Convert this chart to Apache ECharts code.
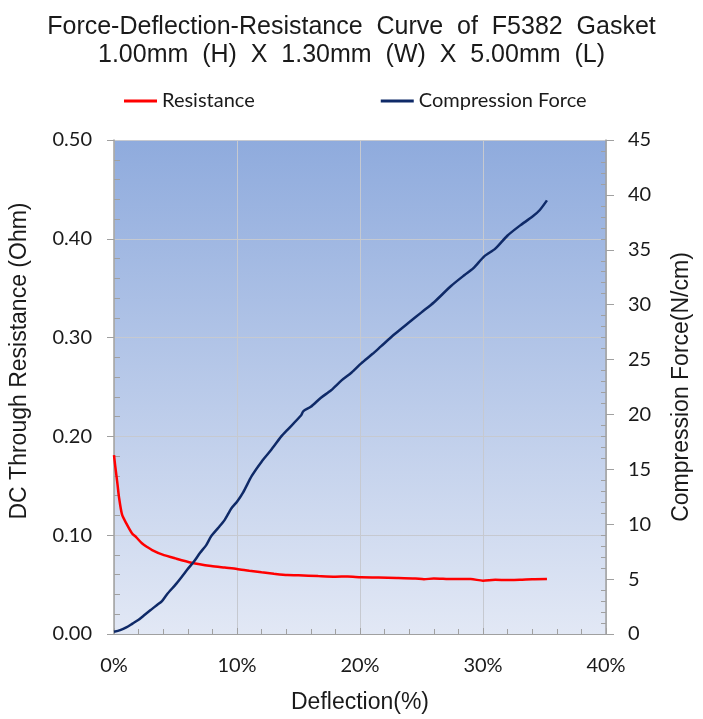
<!DOCTYPE html>
<html>
<head>
<meta charset="utf-8">
<script src="https://cdn.jsdelivr.net/npm/echarts@6/dist/echarts.min.js"></script>
<style>html,body{margin:0;padding:0;background:#fff}#c{width:703px;height:719px}</style>
</head>
<body>
<div id="c"></div>
<script>
// Deflection (%) / Resistance (Ohm)
const resDeflection = [0.0,0.1,0.2,0.3,0.4,0.65,1.0,1.46,1.8,2.27,2.7,3.1,3.9,5.0,6.3,7.9,9.0,10.0,11.0,12.0,13.0,14.1,15.0,16.6,18.0,19.0,20.1,21.5,23.0,24.5,25.2,26.0,27.5,29.0,30.0,31.0,32.0,33.0,34.0,35.2];
const resistance    = [0.181,0.17,0.16,0.15,0.139,0.121,0.112,0.102,0.098,0.0918,0.088,0.085,0.0806,0.0765,0.0722,0.0688,0.0672,0.0658,0.064,0.0624,0.061,0.0597,0.0595,0.0586,0.058,0.0582,0.0574,0.0572,0.0568,0.0562,0.0554,0.0562,0.0556,0.0556,0.054,0.0548,0.0546,0.0548,0.0555,0.0557];
// Deflection (%) / Compression force (N/cm)
const forceDeflection = [0.0,0.5,1.0,1.5,2.0,2.5,3.0,3.5,3.9,4.3,5.0,5.5,6.05,6.5,7.0,7.5,7.9,8.5,9.0,9.55,10.0,10.5,11.2,12.0,12.8,13.6,14.1,15.2,15.4,16.0,16.8,17.65,18.5,19.3,20.1,21.0,21.7,22.8,24.0,25.0,26.0,27.4,28.5,29.2,30.1,31.0,32.0,33.0,34.0,34.6,35.2];
const force           = [0.2,0.35,0.6,0.95,1.3,1.75,2.2,2.65,3.0,3.6,4.5,5.2,6.0,6.6,7.4,8.1,8.9,9.7,10.4,11.45,12.05,12.9,14.4,15.7,16.8,18.0,18.6,19.9,20.3,20.7,21.5,22.2,23.1,23.8,24.65,25.5,26.2,27.3,28.4,29.3,30.2,31.7,32.7,33.3,34.4,35.1,36.3,37.2,38.0,38.6,39.5];

const titleLines = ['Force-Deflection-Resistance  Curve  of  F5382  Gasket', '1.00mm  (H)  X  1.30mm  (W)  X  5.00mm  (L)'];
const seriesNames = ['Resistance', 'Compression Force'];

const chart = echarts.init(document.getElementById('c'));
const tickFont = {fontFamily: 'Lato', fontSize: 20, color: '#1a1a1a'};
const nameFont = {fontFamily: 'Liberation Sans', fontSize: 23, color: '#1a1a1a'};
const axisGray = '#a0a0a0';

chart.setOption({
  animation: false,
  title: {
    text: titleLines.join('\n'),
    left: 'center', top: 8,
    textStyle: {fontFamily: 'Liberation Sans', fontSize: 25, fontWeight: 'normal', color: '#1a1a1a', lineHeight: 28}
  },
  legend: {
    left: 119, top: 86,
    itemWidth: 33, itemHeight: 3, itemGap: 126,
    icon: 'rect',
    textStyle: {fontFamily: 'Lato', fontSize: 20, color: '#1a1a1a'},
    data: seriesNames
  },
  grid: {
    left: 112, right: 97, top: 140, bottom: 85,
    show: true, borderWidth: 0,
    backgroundColor: {type: 'linear', x: 0, y: 0, x2: 0, y2: 1,
      colorStops: [{offset: 0, color: '#8fabdd'}, {offset: 1, color: '#e2e8f5'}]}
  },
  xAxis: {
    type: 'value', min: 0, max: 40, interval: 10,
    name: 'Deflection(%)', nameLocation: 'middle', nameGap: 57, nameTextStyle: nameFont,
    axisLine: {show: true, onZero: false, lineStyle: {color: axisGray, width: 1}},
    axisTick: {show: true, inside: true, length: 6, lineStyle: {color: axisGray}},
    minorTick: {show: true, splitNumber: 5, length: 5, lineStyle: {color: axisGray}},
    axisLabel: Object.assign({formatter: '{value}%', margin: 22}, tickFont),
    splitLine: {show: true, lineStyle: {color: '#c6c9d0', width: 1}}
  },
  yAxis: [{
    type: 'value', min: 0, max: 0.5, interval: 0.1, position: 'left',
    name: 'DC Through Resistance (Ohm)', nameLocation: 'middle', nameGap: 83,
    nameTextStyle: Object.assign({padding: [0, 0, 0, 52]}, nameFont),
    axisLine: {show: true, lineStyle: {color: axisGray, width: 1.5}},
    axisTick: {show: true, inside: true, length: -7, lineStyle: {color: axisGray}},
    minorTick: {show: true, splitNumber: 5, length: 6, lineStyle: {color: axisGray}},
    axisLabel: Object.assign({formatter: v => v.toFixed(2), margin: 22}, tickFont),
    splitLine: {show: true, lineStyle: {color: '#c6c9d0', width: 1}}
  }, {
    type: 'value', min: 0, max: 45, interval: 5, position: 'right',
    name: 'Compression Force(N/cm)', nameLocation: 'middle', nameGap: 64, nameRotate: 90,
    nameTextStyle: nameFont,
    axisLine: {show: true, lineStyle: {color: axisGray, width: 1.5}},
    axisTick: {show: true, inside: true, length: -8, lineStyle: {color: axisGray}},
    minorTick: {show: true, splitNumber: 5, length: 5, lineStyle: {color: axisGray}},
    axisLabel: Object.assign({margin: 22}, tickFont),
    splitLine: {show: false}
  }],
  series: [{
    name: seriesNames[0], type: 'line', yAxisIndex: 0, showSymbol: false, symbol: 'none', smooth: 0.25,
    lineStyle: {color: '#ff0000', width: 2.5}, itemStyle: {color: '#ff0000'},
    data: resDeflection.map((x, i) => [x, resistance[i]])
  }, {
    name: seriesNames[1], type: 'line', yAxisIndex: 1, showSymbol: false, symbol: 'none', smooth: 0.25,
    lineStyle: {color: '#0f2a68', width: 2.5}, itemStyle: {color: '#0f2a68'},
    data: forceDeflection.map((x, i) => [x, force[i]])
  }]
});
</script>
</body>
</html>
